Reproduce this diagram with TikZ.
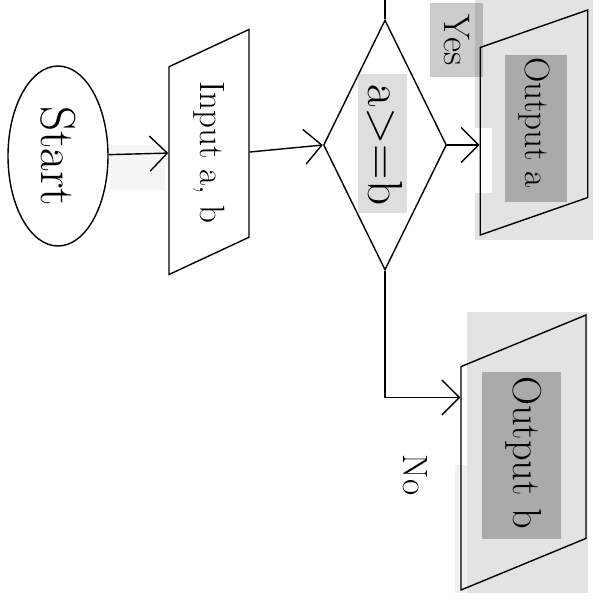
\documentclass[tikz,border=0pt]{standalone}
\usepackage{tikz}
\usetikzlibrary{shapes.geometric,arrows.meta,calc}

\begin{document}
\begin{tikzpicture}[line width=0.8pt,
    start style/.style={draw,ellipse,inner sep=0pt,minimum width=3.6cm,minimum height=2cm,font=\fontsize{28}{30}\selectfont},
    io style/.style={draw,trapezium,trapezium stretches body,trapezium left angle=140,trapezium right angle=40,inner sep=0pt,rotate=-90},
    test style/.style={draw,diamond,aspect=2,inner sep=0pt,minimum width=5cm,minimum height=2.46cm,rotate=-90,font=\fontsize{28}{30}\selectfont},
    label style/.style={fill=black,fill opacity=0.2,text opacity=1,rotate=-90},
    fleche/.style={-{Straight Barb[length=3.5mm,width=7mm]}},
    surligne/.style={fill=black,fill opacity=#1}]
    \useasboundingbox (0,0) rectangle (12,-12);

    % fonds gris
    \fill[surligne=0.11] (9.5,0) rectangle (11.86,-4.8);
    \fill[white] (9.5,-2.56) rectangle (9.84,-3.86);
    \fill[surligne=0.11] (9.34,-6.24) rectangle (11.76,-11.86);
    \fill[surligne=0.06] (9.1,-9.3) rectangle (9.34,-11.86);
    \fill[surligne=0.25] (10.1,-1.1) rectangle (11.34,-4.04);
    \fill[surligne=0.25] (9.64,-7.44) rectangle (11.22,-10.78);
    \fill[surligne=0.13] (7.16,-1.48) rectangle (8.14,-4.26);
    \fill[surligne=0.04] (2.2,-2.9) rectangle (3.3,-3.8);

    \node[start style,rotate=-90] (start) at (1.16,-3.12) {Start};
    \node[io style,minimum width=4.9cm,minimum height=1.6cm,font=\fontsize{20}{22}\selectfont] (entree) at (4.18,-3.04) {Input a, b};
    \node[test style] (test) at (7.7,-2.9) {a>=b};
    \node[io style,minimum width=4.5cm,minimum height=2.15cm,font=\fontsize{20}{22}\selectfont] (sortieA) at (10.68,-2.45) {Output a};
    \node[io style,trapezium left angle=145,trapezium right angle=35,minimum width=5.5cm,minimum height=2.5cm,font=\fontsize{23}{25}\selectfont] (sortieB) at (10.47,-9.05) {Output b};

    % etiquettes oui / non
    \node[label style,minimum width=1.48cm,minimum height=1.06cm,font=\fontsize{21}{23}\selectfont] (oui) at (9.13,-0.8) {Yes};
    \node[rotate=-90,font=\fontsize{20}{22}\selectfont] (non) at (8.3,-9.5) {No};

    \draw[fleche] (start) -- (entree);
    \draw[fleche] (entree.north) -- (test.south);
    \draw[fleche] (test.north) -- (test.north -| sortieA.south);
    \draw[fleche] (test.east) |- ($(sortieB.south)+(0,1.1)$);
    \draw (test.west) -- ++(0,0.4); % petit trait en haut
\end{tikzpicture}
\end{document}
